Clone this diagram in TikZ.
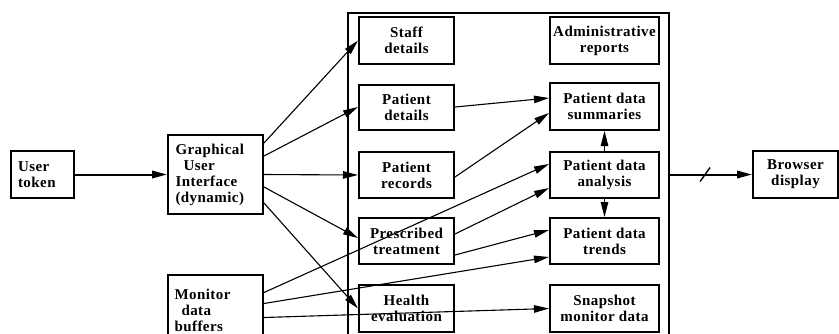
\documentclass[tikz,border=0pt]{standalone}
\usepackage{fontspec}
\setmainfont{Liberation Serif}[LetterSpace=3]
\usetikzlibrary{arrows.meta}
\begin{document}
\begin{tikzpicture}[x=1pt,y=-1pt,
  box/.style={draw,line width=2pt,inner sep=0pt,align=center,font=\fontsize{15}{16}\selectfont\bfseries},
  lbox/.style={box,align=left},
  conn/.style={line width=1.1pt,-{Triangle[length=15pt,width=7.5pt]}},
  thick conn/.style={line width=2pt,-{Triangle[length=15pt,width=7.5pt]}}]
\useasboundingbox (0,0) rectangle (839,333);
% container
\node[draw,line width=1.4pt,minimum width=321pt,minimum height=332pt,inner sep=0pt] (cont) at (508.5,179) {};
% left column
\node[lbox,minimum width=63pt,minimum height=47pt,text width=49pt] (user) at (42.5,174.5) {User\\token};
\node[lbox,minimum width=95pt,minimum height=79pt,text width=80pt] (gui) at (215.5,174.5) {Graphical\\\hspace*{8pt}User\\Interface\\(dynamic)};
\node[lbox,minimum width=95pt,minimum height=71pt,text width=82pt] (mon) at (215.5,310) {Monitor\\\hspace*{7pt}data\\buffers};
% inner left
\node[box,minimum width=95pt,minimum height=47pt] (staff) at (406.5,40.5) {Staff\\details};
\node[box,minimum width=95pt,minimum height=45pt] (pdet) at (406.5,107) {Patient\\details};
\node[box,minimum width=95pt,minimum height=46pt] (prec) at (406.5,175) {Patient\\records};
\node[box,minimum width=95pt,minimum height=46pt] (presc) at (406.5,241) {Prescribed\\treatment};
\node[box,minimum width=95pt,minimum height=47pt] (health) at (406.5,308.5) {Health\\evaluation};
% inner right
\node[box,minimum width=109pt,minimum height=47pt] (admin) at (604.5,40.5) {Administrative\\reports};
\node[box,minimum width=109pt,minimum height=47pt] (summ) at (604.5,106.5) {Patient data\\summaries};
\node[box,minimum width=109pt,minimum height=46pt] (anal) at (604.5,175) {Patient data\\analysis};
\node[box,minimum width=109pt,minimum height=46pt] (trend) at (604.5,241) {Patient data\\trends};
\node[box,minimum width=109pt,minimum height=47pt] (snap) at (604.5,308.5) {Snapshot\\monitor data};
% browser
\node[box,minimum width=85pt,minimum height=47pt] (browser) at (795.5,174.5) {Browser\\display};
% connectors
\draw[thick conn] (user.east) -- (gui.west);
\draw[conn] ([yshift=-9pt]gui.north east) -- (staff.west);
\draw[conn] ([yshift=-22pt]gui.north east) -- (pdet.west);
\draw[conn] (gui.east) -- (prec.west);
\draw[conn] ([yshift=-12.5pt]gui.east) -- ([yshift=3pt]presc.west);
\draw[conn] ([yshift=-28.5pt]gui.east) -- (health.west);
\draw[conn] ([yshift=-19pt]mon.north east) -- ([yshift=11pt]anal.west);
\draw[conn] ([yshift=-30pt]mon.north east) -- ([yshift=-16pt]trend.west);
\draw[conn] ([yshift=-44pt]mon.north east) -- (snap.west);
\draw[conn] (pdet.east) -- ([yshift=8.5pt]summ.west);
\draw[conn] ([yshift=-2pt]prec.east) -- ([yshift=-6.5pt]summ.west);
\draw[conn] ([yshift=7pt]presc.east) -- ([yshift=-13pt]anal.west);
\draw[conn] ([yshift=-14pt]presc.east) -- ([yshift=11pt]trend.west);
\draw[conn] (anal.north) -- (summ.south);
\draw[conn] (anal.south) -- (trend.north);
\draw[thick conn] (cont.east |- browser.west) -- coordinate[pos=0.43] (slash) (browser.west);
\draw[line width=1.4pt] ([xshift=-5pt,yshift=-7pt]slash) -- ([xshift=5pt,yshift=7pt]slash);
\end{tikzpicture}
\end{document}
